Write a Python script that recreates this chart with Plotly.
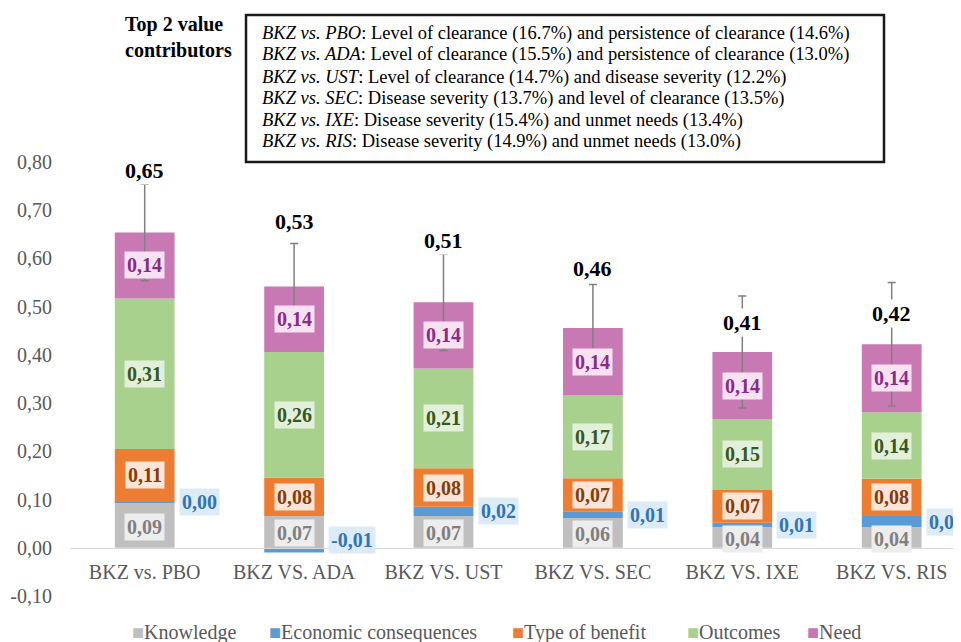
import plotly.graph_objects as go

# ---------------- data ----------------
categories = ["BKZ vs. PBO", "BKZ VS. ADA", "BKZ VS. UST", "BKZ VS. SEC", "BKZ VS. IXE", "BKZ VS. RIS"]
knowledge = [0.093, 0.066, 0.066, 0.062, 0.043, 0.043]
economic = [0.002, -0.010, 0.019, 0.014, 0.009, 0.023]
benefit = [0.110, 0.079, 0.080, 0.068, 0.068, 0.077]
outcomes = [0.312, 0.261, 0.207, 0.172, 0.147, 0.138]
need = [0.137, 0.136, 0.137, 0.140, 0.139, 0.141]
error = [0.100, 0.089, 0.100, 0.090, 0.116, 0.128]

series_names = ["Knowledge", "Economic consequences", "Type of benefit", "Outcomes", "Need"]
y_tick_values = [-0.1, 0.0, 0.1, 0.2, 0.3, 0.4, 0.5, 0.6, 0.7, 0.8]
y_tick_labels = ["-0,10", "0,00", "0,10", "0,20", "0,30", "0,40", "0,50", "0,60", "0,70", "0,80"]

contributors = [
    ("BKZ vs. PBO", "Level of clearance (16.7%) and persistence of clearance (14.6%)"),
    ("BKZ vs. ADA", "Level of clearance (15.5%) and persistence of clearance (13.0%)"),
    ("BKZ vs. UST", "Level of clearance (14.7%) and disease severity (12.2%)"),
    ("BKZ vs. SEC", "Disease severity (13.7%) and level of clearance (13.5%)"),
    ("BKZ vs. IXE", "Disease severity (15.4%) and unmet needs (13.4%)"),
    ("BKZ vs. RIS", "Disease severity (14.9%) and unmet needs (13.0%)"),
]

# ---------------- style ----------------
FONT = "Liberation Serif, Times New Roman, serif"
bar_colors = ["#bfbfbf", "#5b9bd5", "#ed7d31", "#a9d18e", "#c879b4"]
label_text_colors = ["#7f7f7f", "#2e75b6", "#843c0c", "#385723", "#8b2a8b"]
label_bg_colors = ["#ededed", "#ddebf7", "#fbe5d6", "#e2f0d9", "#f8e1f1"]
total_label_lift = [0.129, 0.145, 0.129, 0.124, 0.062, 0.063]
AX_GREY = "#595959"

# the page body adds an 8px offset; figure coordinates are planned in screen pixels
OFF = 8
W, H = 961 - OFF, 642 - OFF
PLOT_LEFT, PLOT_RIGHT, PLOT_TOP, PLOT_BOTTOM = 70, 961, 162, 596  # screen px
ML, MR, MT, MB = PLOT_LEFT - OFF, 0, PLOT_TOP - OFF, H - (PLOT_BOTTOM - OFF)
plot_w = PLOT_RIGHT - PLOT_LEFT
plot_h = PLOT_BOTTOM - PLOT_TOP
CAT_STEP = 149.4


def px_to_paper_x(px):
    return (px - PLOT_LEFT) / plot_w


def px_to_paper_y(py):
    return (PLOT_BOTTOM - py) / plot_h


def fmt(v):
    return f"{v:.2f}".replace(".", ",")


series = [knowledge, economic, benefit, outcomes, need]
totals = [sum(vals) for vals in zip(*series)]
positive_tops = [sum(v for v in vals if v > 0) for vals in zip(*series)]

fig = go.Figure()
for name, vals, col in zip(series_names, series, bar_colors):
    fig.add_trace(go.Bar(
        x=categories, y=vals, name=name, marker=dict(color=col, line=dict(width=0)),
        width=0.40, showlegend=False, hoverinfo="x+y+name",
    ))

# error bars at the top of each stack
fig.add_trace(go.Scatter(
    x=categories, y=positive_tops, mode="markers", marker=dict(size=1, opacity=0),
    showlegend=False, hoverinfo="skip",
    error_y=dict(type="data", array=error, visible=True, color="#808080", thickness=1.5, width=4),
))

annotations = []
for i, cat in enumerate(categories):
    k, e, b, o, n = knowledge[i], economic[i], benefit[i], outcomes[i], need[i]
    pos_base = k + max(e, 0)
    mids = [
        k / 2 - 0.003,
        max((k + e / 2) if e >= 0 else e / 2, 0.017),
        pos_base + b / 2,
        pos_base + b + o / 2,
        pos_base + b + o + n / 2,
    ]
    vals = [k, e, b, o, n]
    for s in range(5):
        ann = dict(
            x=cat, y=mids[s], xref="x", yref="y", text=f"<b>{fmt(vals[s])}</b>",
            showarrow=False, font=dict(family=FONT, size=20, color=label_text_colors[s]),
            bgcolor=label_bg_colors[s], borderpad=2,
        )
        if s == 1:
            ann.update(xanchor="left", xshift=34)
        annotations.append(ann)
    annotations.append(dict(
        x=cat, y=totals[i] + total_label_lift[i], xref="x", yref="y",
        text=f"<b>{fmt(totals[i])}</b>", showarrow=False,
        font=dict(family=FONT, size=22, color="#000000"), bgcolor="#ffffff", borderpad=1,
    ))

# header text
annotations.append(dict(
    x=px_to_paper_x(123), y=px_to_paper_y(11), xref="paper", yref="paper",
    xanchor="left", yanchor="top", align="left", showarrow=False,
    text="<b>Top 2 value<br>contributors</b>", font=dict(family=FONT, size=20, color="#000000"),
))
line_y = [33, 55, 77, 98.5, 120, 141.5]
for (a, b), ly in zip(contributors, line_y):
    annotations.append(dict(
        x=px_to_paper_x(260), y=px_to_paper_y(ly), xref="paper", yref="paper",
        xanchor="left", yanchor="middle", align="left", showarrow=False,
        text=f"<i>{a}</i>: {b}", font=dict(family=FONT, size=18.5, color="#000000"),
    ))

# legend (text-based)
legend_x = [130, 267, 510, 685, 805]
for name, col, lx in zip(series_names, bar_colors, legend_x):
    annotations.append(dict(
        x=px_to_paper_x(lx), y=px_to_paper_y(632), xref="paper", yref="paper",
        xanchor="left", yanchor="middle", showarrow=False,
        text=f"<span style='color:{col}'>■</span>{name}",
        font=dict(family=FONT, size=20, color=AX_GREY),
    ))

shapes = [dict(
    type="rect", xref="paper", yref="paper",
    x0=px_to_paper_x(246), x1=px_to_paper_x(884),
    y0=px_to_paper_y(162), y1=px_to_paper_y(15),
    line=dict(color="#1a1a1a", width=2.5), fillcolor="rgba(0,0,0,0)",
)]

fig.update_layout(
    width=W, height=H, barmode="relative",
    margin=dict(l=ML, r=MR, t=MT, b=MB, pad=0, autoexpand=False),
    paper_bgcolor="#ffffff", plot_bgcolor="#ffffff",
    font=dict(family=FONT, size=20, color=AX_GREY),
    annotations=annotations, shapes=shapes, showlegend=False,
    xaxis=dict(
        type="category", range=[-0.5, -0.5 + plot_w / CAT_STEP],
        anchor="free", position=0.1 / 0.9, automargin=False,
        showline=True, linecolor="#d9d9d9", linewidth=1,
        showgrid=False, zeroline=False,
        ticks="outside", ticklen=6, tickcolor="rgba(0,0,0,0)",
        tickfont=dict(family=FONT, size=20, color=AX_GREY),
    ),
    yaxis=dict(
        range=[-0.1, 0.8], tickvals=y_tick_values, ticktext=y_tick_labels,
        showgrid=False, zeroline=False, showline=False, automargin=False,
        ticks="outside", ticklen=13, tickcolor="rgba(0,0,0,0)",
        tickfont=dict(family=FONT, size=20, color=AX_GREY),
    ),
)

fig.write_html("out.html")
